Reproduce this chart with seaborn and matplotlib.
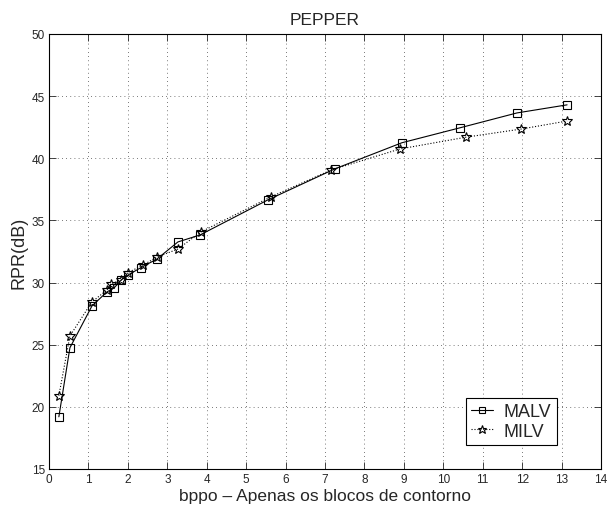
import matplotlib
matplotlib.use("Agg")
import matplotlib.pyplot as plt
import seaborn as sns
import pandas as pd

malv_x = [0.25, 0.53, 1.09, 1.47, 1.65, 1.83, 2.00, 2.33, 2.74, 3.27, 3.83, 5.55, 7.25, 8.95, 10.42, 11.87, 13.14]
malv_y = [19.2, 24.75, 28.12, 29.25, 29.57, 30.2, 30.6, 31.2, 31.9, 33.27, 33.83, 36.65, 39.15, 41.25, 42.45, 43.65, 44.3]
milv_x = [0.25, 0.53, 1.09, 1.47, 1.57, 1.83, 2.00, 2.38, 2.74, 3.27, 3.85, 5.63, 7.15, 8.90, 10.58, 11.97, 13.14]
milv_y = [20.9, 25.7, 28.45, 29.4, 29.9, 30.2, 30.8, 31.4, 32.05, 32.7, 34.07, 36.9, 39.05, 40.75, 41.7, 42.35, 43.0]

title = "PEPPER"
xlabel = "bppo – Apenas os blocos de contorno"
ylabel = "RPR(dB)"
xticks = list(range(0, 15))
yticks = [15, 20, 25, 30, 35, 40, 45, 50]

sns.set_style("ticks")
plt.rcParams['font.family'] = ['Liberation Sans', 'DejaVu Sans']
plt.rcParams['xtick.direction'] = 'in'
plt.rcParams['ytick.direction'] = 'in'

fig = plt.figure(figsize=(6.07, 5.10), dpi=100)
ax = fig.add_axes([49/607, 1 - 470/510, (601 - 49)/607, (470 - 35)/510])

df_malv = pd.DataFrame({"x": malv_x, "y": malv_y})
df_milv = pd.DataFrame({"x": milv_x, "y": milv_y})

sns.lineplot(data=df_malv, x="x", y="y", ax=ax, sort=False, color="black",
             linestyle="-", linewidth=0.8, marker="s", markersize=5.5,
             markerfacecolor="none", markeredgecolor="black", markeredgewidth=0.8,
             label="MALV")
sns.lineplot(data=df_milv, x="x", y="y", ax=ax, sort=False, color="black",
             linestyle=":", linewidth=0.8, marker="*", markersize=7.5,
             markerfacecolor="none", markeredgecolor="black", markeredgewidth=0.8,
             label="MILV")

ax.set_xlim(0, 14)
ax.set_ylim(15, 50)
ax.set_xticks(xticks)
ax.set_yticks(yticks)
ax.tick_params(axis="both", which="both", direction="in", top=True, right=True,
               labelsize=8.5, length=5, width=0.6, pad=3)
ax.grid(True, linestyle=(0, (1, 4)), color="black", linewidth=0.6, alpha=0.7)
for s in ax.spines.values():
    s.set_visible(True)
    s.set_linewidth(0.8)
    s.set_color("black")

ax.set_title(title, fontsize=12.5, pad=7)
ax.set_xlabel(xlabel, fontsize=12.5, labelpad=2)
ax.set_ylabel(ylabel, fontsize=13, labelpad=3)

leg = ax.legend(loc="lower right", bbox_to_anchor=(0.920, 0.055), fontsize=13,
                frameon=True, fancybox=False, edgecolor="black", framealpha=1,
                handlelength=1.2, handletextpad=0.6, borderpad=0.3, labelspacing=0.15,
                borderaxespad=0, markerscale=0.85)
leg.get_frame().set_linewidth(0.8)

fig.savefig("out.png", dpi=100)
